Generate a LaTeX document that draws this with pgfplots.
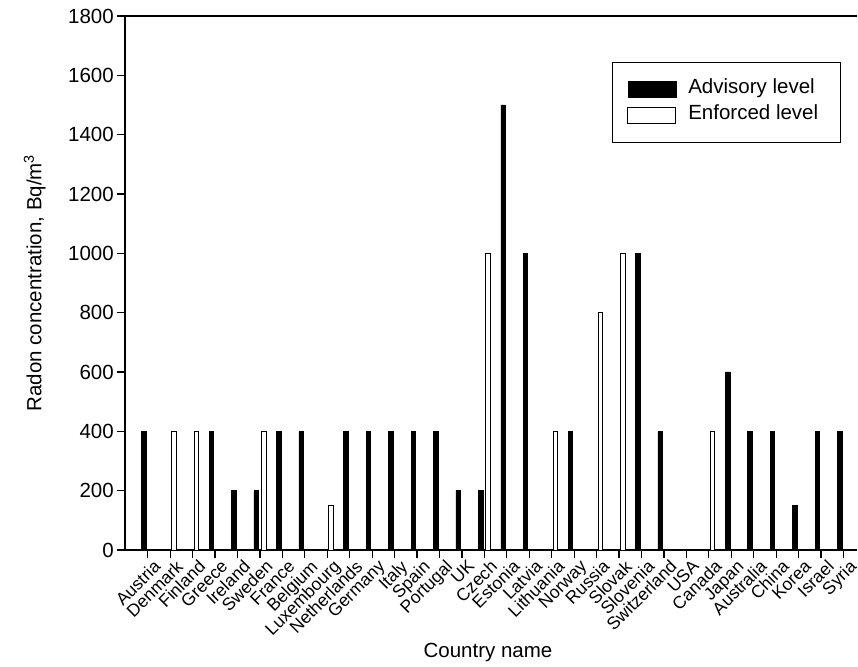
\documentclass[border=0pt]{standalone}
\usepackage{fontspec}
\setmainfont{Liberation Sans}
\usepackage{pgfplots}
\pgfplotsset{compat=1.18}
\pgfplotsset{boxlegend/.style={legend image code/.code={\draw[##1] (0pt,-8pt) rectangle (48pt,8pt);}}}
\begin{document}
\begin{tikzpicture}[font=\fontsize{20.5}{24}\selectfont]
\begin{axis}[
  at={(0,0)}, anchor=south west,
  scale only axis, width=732pt, height=534pt,
  axis x line=box, axis y line=left,
  xtick pos=left,
  axis line style={-, line width=1.2pt},
  ymin=0, ymax=1800, ytick={0,200,...,1800},
  xmin=-1.01, xmax=31.6,
  xtick={0,...,31},
  xticklabels={Austria,Denmark,Finland,Greece,Ireland,Sweden,France,Belgium,Luxembourg,Netherlands,Germany,Italy,Spain,Portugal,UK,Czech,Estonia,Latvia,Lithuania,Norway,Russia,Slovak,Slovenia,Switzerland,USA,Canada,Japan,Australia,China,Korea,Israel,Syria},
  xticklabel style={rotate=45, anchor=north east, inner sep=1pt, xshift=4pt, yshift=-3pt, font=\fontsize{17.5}{20}\selectfont},
  yticklabel style={inner xsep=3pt},
  tick align=outside, major tick length=8pt,
  tick style={line width=1.2pt, black},
  /pgf/number format/assume math mode=true,
  /pgf/number format/set thousands separator={},
  ybar=3pt, bar width=4.5pt,
  xlabel={Country name},
  xlabel style={at={(axis description cs:0.5,0)}, anchor=center, xshift=-3pt, yshift=-102pt},
  ylabel={Radon concentration, Bq/m\textsuperscript{3}},
  ylabel shift=16pt,
  legend style={draw=black, line width=1pt, at={(0.9777,0.9139)}, anchor=north east,
    inner xsep=15pt, inner ysep=14pt, row sep=0pt, cells={anchor=west},
    nodes={inner xsep=0pt, inner ysep=3.5pt, text height=14pt, text depth=5pt},
    /tikz/every odd column/.append style={column sep=12pt},
    font=\fontsize{20.5}{24}\selectfont},
]
\addplot[fill=black, draw=black, line width=0.6pt, boxlegend]
coordinates {(0,400)(3,400)(4,200)(5,200)(6,400)(7,400)(9,400)(10,400)(11,400)(12,400)(13,400)(14,200)(15,200)(16,1500)(17,1000)(19,400)(22,1000)(23,400)(26,600)(27,400)(28,400)(29,150)(30,400)(31,400)};
\addlegendentry{Advisory level\hspace*{7pt}}
\addplot[fill=white, draw=black, line width=0.8pt, boxlegend]
coordinates {(1,400)(2,400)(5,400)(8,150)(15,1000)(18,400)(20,800)(21,1000)(25,400)};
\addlegendentry{Enforced level\hspace*{7pt}}
\end{axis}
\pgfresetboundingbox
\path (-125pt,-116pt) rectangle (733pt,550pt);
\end{tikzpicture}
\end{document}
